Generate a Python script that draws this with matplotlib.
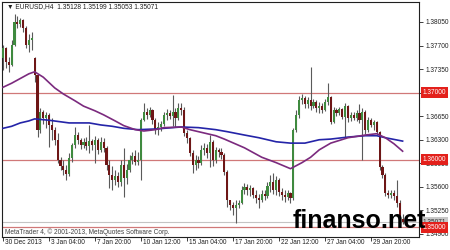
import numpy as np
import matplotlib
matplotlib.use("Agg")
import matplotlib.pyplot as plt
from matplotlib.transforms import blended_transform_factory

plt.rcParams['font.family'] = ['Liberation Sans', 'DejaVu Sans']

# EURUSD H4 candles
opens = [1.3752, 1.3766, 1.3746, 1.3741, 1.3771, 1.3805, 1.3802, 1.3808, 1.3796, 1.3771,
         1.3778, 1.3752, 1.3726, 1.3645, 1.3671, 1.3662, 1.3667, 1.3652, 1.3645, 1.3630,
         1.3600, 1.3591, 1.3585, 1.3579, 1.3603, 1.3622, 1.3637, 1.3630, 1.3622, 1.3627,
         1.3621, 1.3628, 1.3622, 1.3630, 1.3615, 1.3627, 1.3618, 1.3593, 1.3578, 1.3570,
         1.3576, 1.3567, 1.3593, 1.3573, 1.3585, 1.3600, 1.3606, 1.3597, 1.3600, 1.3659,
         1.3671, 1.3667, 1.3674, 1.3659, 1.3645, 1.3649, 1.3653, 1.3667, 1.3670, 1.3665,
         1.3671, 1.3662, 1.3677, 1.3674, 1.3640, 1.3633, 1.3610, 1.3593, 1.3600, 1.3596,
         1.3615, 1.3618, 1.3610, 1.3627, 1.3600, 1.3615, 1.3612, 1.3607, 1.3582, 1.3540,
         1.3533, 1.3529, 1.3533, 1.3536, 1.3555, 1.3560, 1.3555, 1.3558, 1.3548, 1.3543,
         1.3540, 1.3549, 1.3546, 1.3561, 1.3567, 1.3555, 1.3570, 1.3552, 1.3548, 1.3545,
         1.3551, 1.3543, 1.3645, 1.3667, 1.3689, 1.3692, 1.3683, 1.3689, 1.3680, 1.3686,
         1.3677, 1.3680, 1.3674, 1.3686, 1.3694, 1.3656, 1.3674, 1.3670, 1.3676, 1.3664,
         1.3680, 1.3662, 1.3667, 1.3662, 1.3670, 1.3659, 1.3671, 1.3645, 1.3659, 1.3652,
         1.3656, 1.3642, 1.3590, 1.3578, 1.3551, 1.3548, 1.3551, 1.3546, 1.3536, 1.35128]
highs = [1.3771, 1.3768, 1.3753, 1.3778, 1.3817, 1.3814, 1.3811, 1.3810, 1.3799, 1.3787,
         1.3790, 1.3753, 1.3728, 1.3677, 1.3674, 1.3671, 1.3670, 1.3662, 1.3649, 1.3640,
         1.3604, 1.3600, 1.3593, 1.3610, 1.3625, 1.3649, 1.3642, 1.3633, 1.3633, 1.3634,
         1.3652, 1.3631, 1.3636, 1.3633, 1.3634, 1.3633, 1.3621, 1.3600, 1.3591, 1.3585,
         1.3582, 1.3600, 1.3618, 1.3594, 1.3607, 1.3612, 1.3615, 1.3612, 1.3662, 1.3685,
         1.3677, 1.3679, 1.3676, 1.3662, 1.3656, 1.3658, 1.3671, 1.3676, 1.3674, 1.3697,
         1.3677, 1.3685, 1.3685, 1.3679, 1.3645, 1.3634, 1.3615, 1.3607, 1.3606, 1.3622,
         1.3625, 1.3624, 1.3637, 1.3630, 1.3619, 1.3618, 1.3618, 1.3610, 1.3585, 1.3540,
         1.3538, 1.3540, 1.3540, 1.3561, 1.3566, 1.3564, 1.3563, 1.3560, 1.3555, 1.3549,
         1.3555, 1.3555, 1.3567, 1.3578, 1.3581, 1.3576, 1.3573, 1.3558, 1.3555, 1.3555,
         1.3552, 1.3648, 1.3674, 1.3695, 1.3698, 1.3695, 1.3694, 1.3738, 1.3691, 1.3689,
         1.3686, 1.3685, 1.3691, 1.3714, 1.3695, 1.3679, 1.3677, 1.3679, 1.3677, 1.3685,
         1.3682, 1.3671, 1.3671, 1.3674, 1.3683, 1.3677, 1.3674, 1.3664, 1.3662, 1.3659,
         1.3658, 1.3643, 1.3593, 1.3581, 1.3555, 1.3555, 1.3555, 1.3570, 1.3540, 1.35199]
lows = [1.3734, 1.3737, 1.3731, 1.3740, 1.3769, 1.3796, 1.3798, 1.3790, 1.3766, 1.3760,
        1.3763, 1.3716, 1.3634, 1.3640, 1.3653, 1.3648, 1.3619, 1.3630, 1.3622, 1.3596,
        1.3585, 1.3578, 1.3570, 1.3576, 1.3597, 1.3618, 1.3624, 1.3616, 1.3618, 1.3615,
        1.3610, 1.3615, 1.3596, 1.3609, 1.3612, 1.3612, 1.3585, 1.3558, 1.3555, 1.3563,
        1.3560, 1.3561, 1.3545, 1.3564, 1.3582, 1.3594, 1.3593, 1.3593, 1.3570, 1.3658,
        1.3661, 1.3664, 1.3653, 1.3639, 1.3637, 1.3643, 1.3650, 1.3659, 1.3661, 1.3650,
        1.3649, 1.3659, 1.3667, 1.3636, 1.3625, 1.3606, 1.3581, 1.3585, 1.3588, 1.3593,
        1.3607, 1.3603, 1.3590, 1.3591, 1.3596, 1.3604, 1.3601, 1.3578, 1.3530, 1.3526,
        1.3518, 1.3506, 1.3529, 1.3535, 1.3549, 1.3548, 1.3546, 1.3543, 1.3536, 1.3529,
        1.3537, 1.3540, 1.3543, 1.3552, 1.3549, 1.3548, 1.3546, 1.3540, 1.3537, 1.3540,
        1.3536, 1.3540, 1.3642, 1.3662, 1.3683, 1.3677, 1.3677, 1.3674, 1.3677, 1.3671,
        1.3670, 1.3670, 1.3673, 1.3682, 1.3653, 1.3655, 1.3665, 1.3667, 1.3661, 1.3634,
        1.3656, 1.3658, 1.3659, 1.3658, 1.3655, 1.3600, 1.3639, 1.3642, 1.3649, 1.3645,
        1.3639, 1.3585, 1.3573, 1.3546, 1.3543, 1.3543, 1.3540, 1.3530, 1.3508, 1.35053]
closes = [1.3766, 1.3746, 1.3741, 1.3771, 1.3805, 1.3802, 1.3808, 1.3796, 1.3771, 1.3778,
          1.3781, 1.3726, 1.3645, 1.3671, 1.3662, 1.3667, 1.3652, 1.3645, 1.3630, 1.3600,
          1.3591, 1.3585, 1.3579, 1.3603, 1.3622, 1.3637, 1.3630, 1.3622, 1.3627, 1.3621,
          1.3628, 1.3622, 1.3630, 1.3615, 1.3627, 1.3618, 1.3593, 1.3578, 1.3570, 1.3576,
          1.3567, 1.3593, 1.3573, 1.3585, 1.3600, 1.3606, 1.3597, 1.3600, 1.3659, 1.3671,
          1.3667, 1.3674, 1.3659, 1.3645, 1.3649, 1.3653, 1.3667, 1.3670, 1.3665, 1.3671,
          1.3662, 1.3677, 1.3674, 1.3640, 1.3633, 1.3610, 1.3593, 1.3600, 1.3596, 1.3615,
          1.3618, 1.3610, 1.3627, 1.3600, 1.3615, 1.3612, 1.3607, 1.3582, 1.3540, 1.3533,
          1.3529, 1.3533, 1.3536, 1.3555, 1.3560, 1.3555, 1.3558, 1.3548, 1.3543, 1.3540,
          1.3549, 1.3546, 1.3561, 1.3567, 1.3555, 1.3570, 1.3552, 1.3548, 1.3545, 1.3551,
          1.3543, 1.3645, 1.3667, 1.3689, 1.3692, 1.3683, 1.3689, 1.3680, 1.3686, 1.3677,
          1.3680, 1.3674, 1.3686, 1.3694, 1.3656, 1.3674, 1.3670, 1.3676, 1.3664, 1.3680,
          1.3662, 1.3667, 1.3662, 1.3670, 1.3659, 1.3671, 1.3645, 1.3659, 1.3652, 1.3656,
          1.3642, 1.3590, 1.3578, 1.3551, 1.3548, 1.3551, 1.3546, 1.3536, 1.3514, 1.35071]

# moving averages (bar index, price) as they appear on the chart
ma_fast_idx = [0, 3, 6, 9, 11, 14, 18, 21, 25, 28, 32, 35, 39, 42, 46, 49, 53, 56, 62, 65,
               70, 74, 77, 84, 90, 95, 100, 104, 107, 110, 114, 120, 126, 130, 133, 136, 139]
ma_fast = [1.3708, 1.3714, 1.3721, 1.3728, 1.3731, 1.3723, 1.3707, 1.3698, 1.3688, 1.3680,
           1.3673, 1.3667, 1.3658, 1.3651, 1.3645, 1.3643, 1.3645, 1.3648, 1.3649, 1.3645,
           1.3640, 1.3636, 1.3631, 1.3618, 1.3604, 1.3596, 1.3587, 1.3596, 1.3604, 1.3615,
           1.3625, 1.3633, 1.3637, 1.3639, 1.3633, 1.3624, 1.3613]
ma_slow_idx = [0, 3, 6, 9, 11, 16, 23, 30, 34, 38, 42, 47, 53, 59, 62, 68, 74, 78, 84, 89,
               95, 100, 105, 110, 114, 120, 126, 130, 133, 139]
ma_slow = [1.3647, 1.3650, 1.3655, 1.3658, 1.3661, 1.3659, 1.3655, 1.3655, 1.3652, 1.3650,
           1.3647, 1.3645, 1.3646, 1.3648, 1.3649, 1.3648, 1.3645, 1.3642, 1.3637, 1.3633,
           1.3627, 1.3625, 1.3625, 1.3630, 1.3631, 1.3634, 1.3636, 1.3636, 1.3633, 1.3628]

levels = [1.37000, 1.36000, 1.35000]
bid = 1.35071
price_ticks = [1.34900, 1.35250, 1.35600, 1.35950, 1.36300, 1.36650, 1.37000, 1.37350, 1.37700, 1.38050]
date_pos = [0, 16, 32, 48, 64, 80, 96, 112, 128]
date_labels = ['30 Dec 2013', '3 Jan 04:00', '7 Jan 20:00', '10 Jan 12:00', '15 Jan 04:00',
               '17 Jan 20:00', '22 Jan 12:00', '27 Jan 04:00', '29 Jan 20:00']

fig = plt.figure(figsize=(4.5, 2.5), dpi=100)
fig.patch.set_facecolor('white')
ax = fig.add_axes([2 / 450, 13 / 250, 417 / 450, 235 / 250])
ax.set_xlim(-0.35, 144.7)
ax.set_ylim(1.34855, 1.38347)

o = np.array(opens)
h = np.array(highs)
l = np.array(lows)
c = np.array(closes)
idx = np.arange(len(c))
up = c >= o

ax.vlines(idx, l, h, color='#5a5a5a', lw=0.8, zorder=3)
ax.bar(idx, np.maximum(np.abs(c - o), 0.00005), bottom=np.minimum(o, c), width=0.72,
       color=np.where(up, '#3f8a3f', '#6e1616'), linewidth=0, zorder=4)

ax.plot(ma_slow_idx, ma_slow, color='#2424a8', lw=1.2, zorder=5)
ax.plot(ma_fast_idx, ma_fast, color='#7b2a7e', lw=1.2, zorder=5)

for lv in levels:
    ax.axhline(lv, color='#d07878', lw=0.9, zorder=2)
ax.axhline(bid, color='#c4c4c4', lw=0.8, zorder=2)

for s in ax.spines.values():
    s.set_color('#202020')
    s.set_linewidth(0.8)

# the tick label at a level line sits under the red price box, so leave it blank
ax.yaxis.tick_right()
ax.set_yticks(price_ticks)
ax.set_yticklabels(['' if p in levels else '%.5f' % p for p in price_ticks])
ax.tick_params(axis='y', length=3, width=0.6, pad=1.5, labelsize=4.7, colors='#202020')
ax.set_xticks(date_pos)
ax.set_xticklabels([])
ax.tick_params(axis='x', length=3, width=0.6, colors='#202020')

tr = blended_transform_factory(ax.transData, ax.transAxes)
for pos, lab in zip(date_pos, date_labels):
    ax.text(pos + 0.6, -6 / 235, lab, transform=tr, fontsize=4.7, va='center', ha='left',
            color='#202020', clip_on=False)

ytr = ax.get_yaxis_transform()
ax.text(1 + 4 / 417, bid, '%.5f' % bid, transform=ytr, fontsize=4.7, va='center', ha='left',
        color='#303030', bbox=dict(boxstyle='square,pad=0.3', fc='#c8c8c8', ec='none'),
        clip_on=False, zorder=10)
for lv in levels:
    ax.text(1 + 4 / 417, lv, '%.5f' % lv, transform=ytr, fontsize=4.7, va='center', ha='left',
            color='white', bbox=dict(boxstyle='square,pad=0.3', fc='#e3201b', ec='none'),
            clip_on=False, zorder=11)

ax.text(5 / 417, 1 - 5 / 235, '\u25bc EURUSD,H4  1.35128 1.35199 1.35053 1.35071',
        transform=ax.transAxes, fontsize=4.8, va='center', ha='left', color='#202020')
ax.text(3 / 417, 5 / 235, 'MetaTrader 4, \u00a9 2001-2013, MetaQuotes Software Corp.',
        transform=ax.transAxes, fontsize=4.7, va='center', ha='left', color='#404040')

fig.text(293 / 450, 1 - 228 / 250, 'finanso.net', fontsize=18, fontweight='bold',
         family='Liberation Sans', color='black', va='baseline', ha='left', zorder=20)

fig.savefig('out.png', dpi=100, facecolor='white')
